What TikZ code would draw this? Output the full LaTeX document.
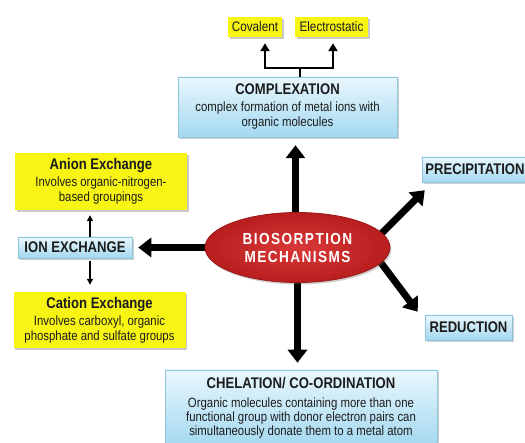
\documentclass[tikz,border=0pt]{standalone}
\usepackage{fontspec}
\setmainfont{Liberation Sans}[FakeStretch=0.85]
\usetikzlibrary{arrows.meta,shadows,shapes.geometric}
\definecolor{ybox}{HTML}{F8F514}
\definecolor{btop}{HTML}{E9F7FD}
\definecolor{bbot}{HTML}{A3D8F0}
\definecolor{bedge}{HTML}{8FC6DE}
\definecolor{txt}{HTML}{1C1C1C}
\definecolor{redin}{HTML}{DA3838}
\definecolor{redout}{HTML}{B81E1E}
\definecolor{bredge}{HTML}{9A1818}
\newcommand{\ttl}{\fontsize{15.4}{15}\selectfont\bfseries}
\pgfdeclarelayer{bgpaper}
\pgfdeclarelayer{bgarrows}
\pgfsetlayers{bgpaper,bgarrows,main}
\begin{document}
\begin{tikzpicture}[x=1pt,y=-1pt,
  ybx/.style={rectangle, inner sep=0pt, align=center, text=txt, fill=ybox,
    drop shadow={shadow xshift=1.5pt, shadow yshift=-2pt, opacity=.35, fill=black!60}},
  bbx/.style={rectangle, inner sep=0pt, align=center, text=txt, draw=bedge, line width=.5pt,
    top color=btop, bottom color=bbot,
    drop shadow={shadow xshift=1.5pt, shadow yshift=-2pt, opacity=.3, fill=black!60}},
  body/.style={font=\fontsize{13.4}{15}\selectfont},
  bigarrow/.style={line width=7pt, -{Triangle[width=19pt,length=13pt]}},
  thinarrow/.style={line width=1.3pt, -{Triangle[width=6pt,length=6pt]}},
  brk/.style={line width=2.8pt, {Triangle[width=9pt,length=8pt]}-{Triangle[width=9pt,length=8pt]}}
]
\begin{pgfonlayer}{bgpaper}
\fill[white] (0,0) rectangle (525,443);
\end{pgfonlayer}
\useasboundingbox (0,0) rectangle (525,443);

% top small boxes
\node[ybx, minimum width=54pt, minimum height=20pt, font=\fontsize{13.8}{13}\selectfont] (cov) at (255,27) {Covalent};
\node[ybx, minimum width=73pt, minimum height=20pt, font=\fontsize{13.8}{13}\selectfont] (elec) at (331.5,27) {Electrostatic};

% complexation
\node[bbx, minimum width=219pt, minimum height=60pt, body] (comp) at (287.5,107)
  {{\ttl COMPLEXATION}\\[2pt]complex formation of metal ions with\\organic molecules};

% bracket
\coordinate (jl) at (265,68);
\coordinate (jr) at (333,68);
\coordinate (jm) at (300,68);
\draw[line width=2.8pt] (comp.north -| jm) -- (jm);
\draw[brk, shorten <=6pt, shorten >=6pt] (jl |- cov.south) -- (jl) -- (jr) -- (jr |- elec.south);

% ellipse
\node[ellipse, minimum width=185pt, minimum height=70pt, inner color=redin, outer color=redout,
  draw=bredge, line width=.8pt,
  inner sep=0pt, align=center, text=white,
  drop shadow={shadow xshift=1.5pt, shadow yshift=-2pt, opacity=.3, fill=black!60},
  font=\fontsize{16}{18}\selectfont\bfseries\addfontfeatures{LetterSpace=9}] (bio) at (297.5,247.5)
  {BIOSORPTION\\MECHANISMS};

% right boxes
\node[bbx, minimum width=106pt, minimum height=25pt, font=\ttl] (prec) at (475,169.5) {PRECIPITATION};
\node[bbx, minimum width=87pt, minimum height=25pt, font=\ttl] (red) at (468.5,327.5) {REDUCTION};

% left
\node[bbx, minimum width=114pt, minimum height=21pt, font=\ttl] (ion) at (75,247.5) {ION EXCHANGE};
\node[ybx, minimum width=172pt, minimum height=57pt, body] (anion) at (101,181.5)
  {{\ttl Anion Exchange}\\[2pt]Involves organic-nitrogen-\\based groupings};
\node[ybx, minimum width=172pt, minimum height=56pt, body] (cation) at (99.5,320)
  {{\ttl Cation Exchange}\\[2pt]Involves carboxyl, organic\\phosphate and sulfate groups};

% chelation
\node[bbx, minimum width=272pt, minimum height=76pt, body, font=\fontsize{13.4}{13.8}\selectfont] (chel) at (301,408)
  {{\ttl CHELATION/ CO-ORDINATION}\\[5pt]Organic molecules containing more than one\\functional group with donor electron pairs can\\simultaneously donate them to a metal atom};

% arrows (behind the ellipse)
\begin{pgfonlayer}{bgarrows}
\draw[bigarrow, shorten >=8pt] ([xshift=-2pt]bio.center) -- ([xshift=-2pt]bio.center |- comp.south);
\draw[bigarrow, shorten >=7pt] (bio.center) -- (bio.center |- chel.north);
\draw[bigarrow, shorten >=6pt] (bio.center) -- (ion.east);
\draw[bigarrow] ([shift={(78,-8)}]bio.center) -- ([shift={(3,8)}]prec.south west);
\draw[bigarrow] ([shift={(78,8)}]bio.center) -- ([shift={(-7,-3)}]red.north west);
\end{pgfonlayer}

\draw[thinarrow, shorten >=5pt] ([xshift=15pt]ion.north) -- ([xshift=15pt]ion.north |- anion.south);
\draw[thinarrow, shorten <=3pt, shorten >=7pt] ([xshift=15pt]ion.south) -- ([xshift=15pt]ion.south |- cation.north);
\end{tikzpicture}
\end{document}
